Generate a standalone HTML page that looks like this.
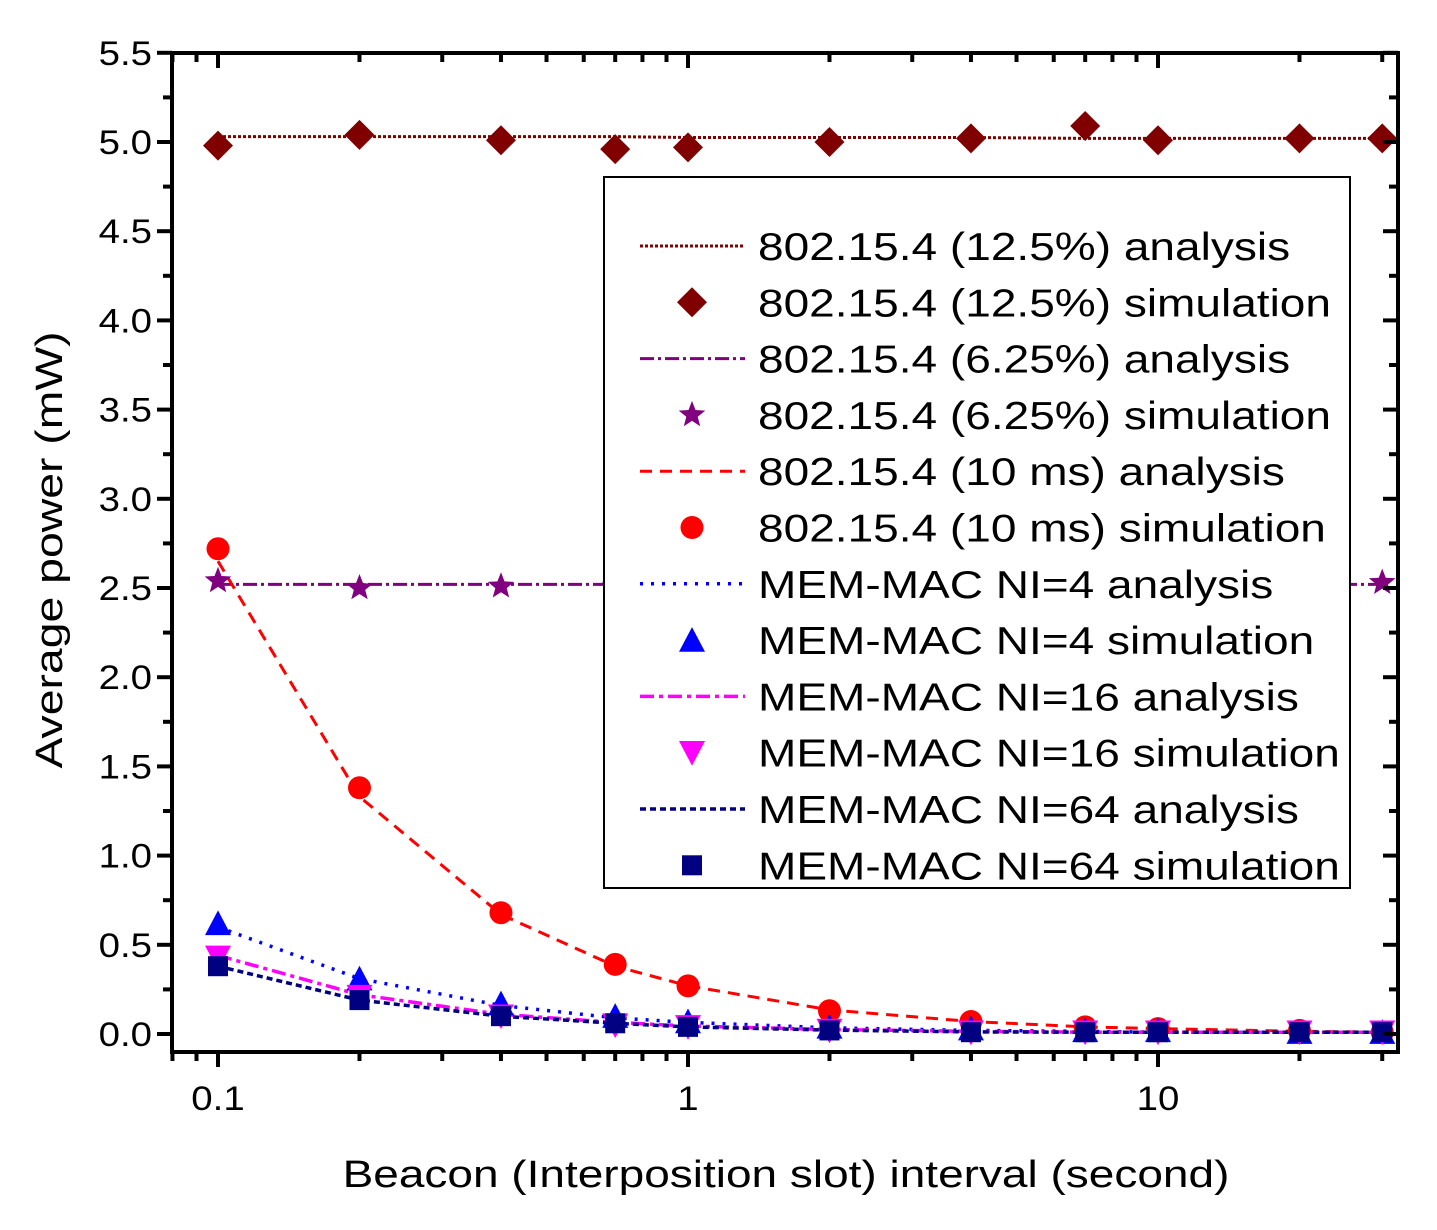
<!DOCTYPE html>
<html><head><meta charset="utf-8"><style>
body{margin:0;background:#fff}
svg{display:block;font-family:"Liberation Sans",Arial,sans-serif}
</style></head><body>
<svg id="chart" width="1437" height="1230" viewBox="0 0 1437 1230">
<rect x="0" y="0" width="1437" height="1230" fill="#fff"/>
<g id="plot"></g>
<g id="axes"></g>
<g id="legend"></g>
<text id="xt" x="786" y="1187" font-size="38" text-anchor="middle">Beacon (Interposition slot) interval (second)</text>
<text id="yt" transform="translate(62,550) rotate(-90)" font-size="38" text-anchor="middle">Average power (mW)</text>
</svg>
<script>
const xs = [0.1,0.2,0.4,0.7,1,2,4,7,10,20,30];
const a125 = [5.03,5.03,5.03,5.03,5.025,5.025,5.025,5.02,5.02,5.02,5.02];
const s125 = [4.98,5.04,5.01,4.96,4.97,5.00,5.02,5.09,5.01,5.02,5.02];
const a625 = [2.52,2.52,2.52,2.52,2.52,2.52,2.52,2.52,2.52,2.52,2.52];
const s625 = [2.54,2.50,2.51,2.51,2.52,2.52,2.52,2.52,2.52,2.52,2.53];
const a10 = [2.65,1.33,0.67,0.38,0.27,0.135,0.07,0.04,0.03,0.015,0.01];
const s10 = [2.72,1.38,0.68,0.39,0.27,0.13,0.07,0.04,0.03,0.02,0.01];
const a4 = [0.60,0.31,0.16,0.09,0.065,0.035,0.02,0.015,0.01,0.01,0.01];
const s4 = [0.62,0.31,0.17,0.10,0.07,0.04,0.03,0.02,0.02,0.01,0.01];
const a16 = [0.44,0.22,0.11,0.065,0.045,0.025,0.015,0.01,0.01,0.01,0.01];
const s16 = [0.43,0.21,0.10,0.05,0.04,0.02,0.01,0.01,0.01,0.01,0.01];
const a64 = [0.38,0.19,0.10,0.06,0.04,0.022,0.012,0.01,0.01,0.01,0.01];
const s64 = [0.38,0.19,0.10,0.06,0.04,0.02,0.01,0.01,0.01,0.01,0.01];
const yTicks = [0,0.5,1.0,1.5,2.0,2.5,3.0,3.5,4.0,4.5,5.0,5.5];
const xTicks = [0.1,1,10];
const xTickLabels = ["0.1","1","10"];

const NS="http://www.w3.org/2000/svg";
const L=172,R=1398,T=53,B=1052;
const X=v=>218+470*Math.log10(v/0.1);
const Y=v=>1034-v*178.4;
function mk(tag,attrs,parent){const e=document.createElementNS(NS,tag);for(const k in attrs)e.setAttribute(k,attrs[k]);parent.appendChild(e);return e;}
function widen(t,f){const w=t.getComputedTextLength();t.setAttribute('textLength',(w*f).toFixed(1));t.setAttribute('lengthAdjust','spacingAndGlyphs');}
const plot=document.getElementById('plot'),axes=document.getElementById('axes'),leg=document.getElementById('legend');

const series=[
 {a:a125,s:s125,c:'#800000',dash:'3,2',w:3,m:'diamond',n:'802.15.4 (12.5%)',k:'125'},
 {a:a625,s:s625,c:'#800080',dash:'14,4,3,4',w:3,m:'star',n:'802.15.4 (6.25%)',k:'625'},
 {a:a10,s:s10,c:'#ff0000',dash:'12,8',w:3,m:'circle',n:'802.15.4 (10 ms)',k:'10ms'},
 {a:a4,s:s4,c:'#0000ff',dash:'3,8',w:3.5,m:'up',n:'MEM-MAC NI=4',k:'ni4'},
 {a:a16,s:s16,c:'#ff00ff',dash:'14,5,4,5',w:3.5,m:'down',n:'MEM-MAC NI=16',k:'ni16'},
 {a:a64,s:s64,c:'#000080',dash:'6,4',w:3.5,m:'square',n:'MEM-MAC NI=64',k:'ni64'}
];
function marker(type,cx,cy,c,parent,sc){
 sc=sc||1;let e;
 if(type==='diamond'){const r=15*sc;e=mk('polygon',{points:`${cx},${cy-r} ${cx+r},${cy} ${cx},${cy+r} ${cx-r},${cy}`,fill:c},parent);}
 else if(type==='circle'){e=mk('circle',{cx,cy,r:11.5*sc,fill:c},parent);}
 else if(type==='up'){const r=13*sc;e=mk('polygon',{points:`${cx},${cy-r} ${cx+r},${cy+r*0.9} ${cx-r},${cy+r*0.9}`,fill:c},parent);}
 else if(type==='down'){const r=13*sc;e=mk('polygon',{points:`${cx},${cy+r} ${cx+r},${cy-r*0.9} ${cx-r},${cy-r*0.9}`,fill:c},parent);}
 else if(type==='square'){const r=10*sc;e=mk('rect',{x:cx-r,y:cy-r,width:2*r,height:2*r,fill:c},parent);}
 else if(type==='star'){const R1=14*sc,r1=6*sc;let p=[];for(let i=0;i<10;i++){const ang=-Math.PI/2+i*Math.PI/5;const rr=i%2?r1:R1;p.push((cx+rr*Math.cos(ang)).toFixed(1)+','+(cy+rr*Math.sin(ang)).toFixed(1));}e=mk('polygon',{points:p.join(' '),fill:c},parent);}
 return e;
}
series.forEach(sr=>{
 const pts=xs.map((x,i)=>X(x).toFixed(1)+','+Y(sr.a[i]).toFixed(1)).join(' ');
 const pl=mk('polyline',{points:pts,fill:'none',stroke:sr.c,'stroke-width':sr.w,'stroke-dasharray':sr.dash},plot);
 
 
});
series.forEach(sr=>{
 xs.forEach((x,i)=>{
  const m=marker(sr.m,X(x),Y(sr.s[i]),sr.c,plot);
  
  
 });
});
const fr=mk('rect',{x:L,y:T,width:R-L,height:B-T,fill:'none',stroke:'#000','stroke-width':4},axes);


for(let v=0;v<=5.5001;v+=0.25){
 const y=Y(v),maj=Math.abs(v*2-Math.round(v*2))<1e-6,len=maj?15:9;
 mk('line',{x1:L-len,x2:L,y1:y,y2:y,stroke:'#000','stroke-width':4},axes);
 mk('line',{x1:R-len,x2:R,y1:y,y2:y,stroke:'#000','stroke-width':4},axes);
}
yTicks.forEach(v=>{
 const t=mk('text',{x:152,y:Y(v)+12,'font-size':34,'text-anchor':'end'},axes);
 t.textContent=v.toFixed(1);
 
 
 widen(t,1.13);
});
for(let d=-2;d<=1;d++){for(let m=1;m<=9;m++){const v=m*Math.pow(10,d);const x=X(v);if(x<L-0.5||x>R+0.5)continue;const len=m===1?15:9;
 mk('line',{x1:x,x2:x,y1:B,y2:B+len,stroke:'#000','stroke-width':4},axes);
 mk('line',{x1:x,x2:x,y1:T,y2:T+len,stroke:'#000','stroke-width':4},axes);}}
xTicks.forEach((v,i)=>{
 const t=mk('text',{x:X(v),y:1110,'font-size':34,'text-anchor':'middle'},axes);
 t.textContent=xTickLabels[i];
 
 
 widen(t,1.13);
});
const lb=mk('rect',{x:604,y:177,width:746,height:711,fill:'#fff',stroke:'#000','stroke-width':2},leg);


let row=0;
series.forEach(sr=>{
 ['analysis','simulation'].forEach(kind=>{
  const y=246+row*56.3;
  if(kind==='analysis'){const l=mk('line',{x1:640,x2:745,y1:y,y2:y,stroke:sr.c,'stroke-width':sr.w,'stroke-dasharray':sr.dash},leg);
   
   }
  else{const m=marker(sr.m,692,y,sr.c,leg);
   
   }
  const t=mk('text',{x:758,y:y+14,'font-size':39},leg);
  t.textContent=sr.n+' '+kind;
  
  
  widen(t,1.18);
  row++;
 });
});
widen(document.getElementById('xt'),1.21);
widen(document.getElementById('yt'),1.22);
</script>
</body></html>
